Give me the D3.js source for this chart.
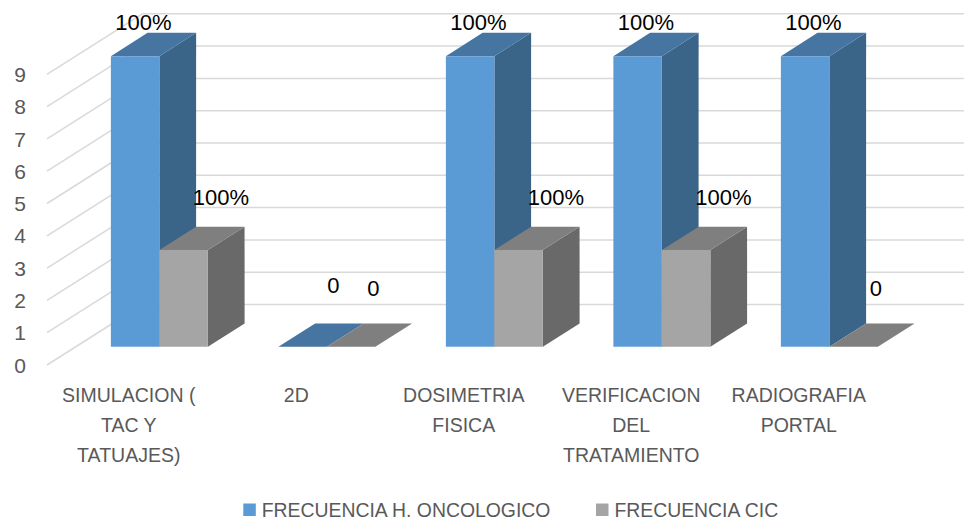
<!DOCTYPE html>
<html>
<head>
<meta charset="utf-8">
<script src="https://cdn.jsdelivr.net/npm/d3@7"></script>
<style>
  html, body { margin: 0; padding: 0; background: #fff; }
  svg { display: block; }
  text { font-family: "Liberation Sans", Arial, sans-serif; }
</style>
</head>
<body>
<svg id="chart" width="964" height="525"></svg>
<script>
// ---- data ----
const categories = [
  ["SIMULACION (", "TAC Y", "TATUAJES)"],
  ["2D"],
  ["DOSIMETRIA", "FISICA"],
  ["VERIFICACION", "DEL", "TRATAMIENTO"],
  ["RADIOGRAFIA", "PORTAL"]
];
const seriesNames = ["FRECUENCIA H. ONCOLOGICO", "FRECUENCIA CIC"];
const valuesOnco = [9, 0, 9, 9, 9];
const valuesCic = [3, 0, 3, 3, 0];
const labelsOnco = ["100%", "0", "100%", "100%", "100%"];
const labelsCic = ["100%", "0", "100%", "100%", "0"];
const yTicks = [0, 1, 2, 3, 4, 5, 6, 7, 8, 9];

// ---- layout ----
const W = 964, H = 525;
const svg = d3.select("#chart");
const catKeys = categories.map(c => c.join(" "));

const frontX0 = 47, frontX1 = 884.5;
const y = d3.scaleLinear().domain([0, 9]).range([365, 74.3]);
const D = { x: 95.4, y: -60.5 };       // depth vector of the whole floor
const t0 = 0.30, t1 = 0.685;           // bar depth span

const x = d3.scaleBand().domain(catKeys).range([frontX0, frontX1])
  .paddingInner(0.421).paddingOuter(0.2105);
const xs = d3.scaleBand().domain(seriesNames).range([0, x.bandwidth()]);

const P = (xf, v, t) => [xf + D.x * t, y(v) + D.y * t];

const styles = [
  { front: "#5B9BD5", top: "#4675A2", side: "#3A6488" },
  { front: "#A5A5A5", top: "#7F7F7F", side: "#696969" }
];

// ---- walls: gridlines ----
const grid = svg.append("g");
grid.selectAll("line.side").data(yTicks).join("line")
  .attr("x1", d => P(frontX0, d, 0)[0]).attr("y1", d => P(frontX0, d, 0)[1])
  .attr("x2", d => P(frontX0, d, 1)[0]).attr("y2", d => P(frontX0, d, 1)[1])
  .attr("stroke", "#D9D9D9").attr("stroke-width", 1.5);
grid.selectAll("line.back").data(yTicks).join("line")
  .attr("x1", d => P(frontX0, d, 1)[0]).attr("y1", d => P(frontX0, d, 1)[1])
  .attr("x2", W).attr("y2", d => P(frontX0, d, 1)[1])
  .attr("stroke", "#D9D9D9").attr("stroke-width", 1.5);

// ---- y axis labels ----
svg.append("g").selectAll("text").data(yTicks).join("text")
  .attr("x", 26).attr("y", d => y(d) + 7.6)
  .attr("text-anchor", "end")
  .attr("font-size", 21).attr("fill", "#595959")
  .text(d => d);

// ---- bars ----
const seriesVals = [valuesOnco, valuesCic];
const seriesLabels = [labelsOnco, labelsCic];
const bars = [];
catKeys.forEach((c, i) => {
  seriesNames.forEach((s, j) => {
    const x0 = x(c) + xs(s), x1 = x0 + xs.bandwidth();
    bars.push({ i, j, x0, x1, v: seriesVals[j][i], label: seriesLabels[j][i] });
  });
});
const poly = pts => "M" + pts.map(p => p.join(",")).join("L") + "Z";
const gb = svg.append("g");
bars.forEach(b => {
  const st = styles[b.j];
  const g = gb.append("g");
  g.append("path").attr("d", poly([P(b.x1, 0, t0), P(b.x1, b.v, t0), P(b.x1, b.v, t1), P(b.x1, 0, t1)]))
    .attr("fill", st.side);
  g.append("path").attr("d", poly([P(b.x0, b.v, t0), P(b.x1, b.v, t0), P(b.x1, b.v, t1), P(b.x0, b.v, t1)]))
    .attr("fill", st.top);
  g.append("path").attr("d", poly([P(b.x0, 0, t0), P(b.x1, 0, t0), P(b.x1, b.v, t0), P(b.x0, b.v, t0)]))
    .attr("fill", st.front);
});

// ---- data labels ----
const offs = [
  { nz: [-10, -15], z: [12.5, -42] },
  { nz: [19, -33], z: [4, -39] }
];
svg.append("g").selectAll("text").data(bars).join("text")
  .attr("x", b => {
    const c = P((b.x0 + b.x1) / 2, b.v, (t0 + t1) / 2);
    return c[0] + (b.v === 0 ? offs[b.j].z[0] : offs[b.j].nz[0]);
  })
  .attr("y", b => {
    const c = P((b.x0 + b.x1) / 2, b.v, (t0 + t1) / 2);
    return c[1] + (b.v === 0 ? offs[b.j].z[1] : offs[b.j].nz[1]);
  })
  .attr("text-anchor", "middle")
  .attr("font-size", 22).attr("fill", "#000")
  .text(b => b.label);

// ---- category labels ----
const gc = svg.append("g");
categories.forEach((lines, i) => {
  const cx = frontX0 + (frontX1 - frontX0) / categories.length * (i + 0.5) - 2;
  const t = gc.append("text").attr("text-anchor", "middle")
    .attr("font-size", 19.5).attr("fill", "#595959");
  lines.forEach((ln, k) => {
    t.append("tspan").attr("x", cx).attr("y", 401.7 + k * 30).text(ln);
  });
});

// ---- legend ----
const legendX = [243.3, 596];
const gl = svg.append("g");
seriesNames.forEach((s, j) => {
  gl.append("rect").attr("x", legendX[j]).attr("y", 503.5)
    .attr("width", 12.5).attr("height", 12.5).attr("fill", styles[j].front);
  gl.append("text").attr("x", legendX[j] + 18.4).attr("y", 516.7)
    .attr("font-size", 19.4).attr("fill", "#595959").text(s);
});
</script>
</body>
</html>
